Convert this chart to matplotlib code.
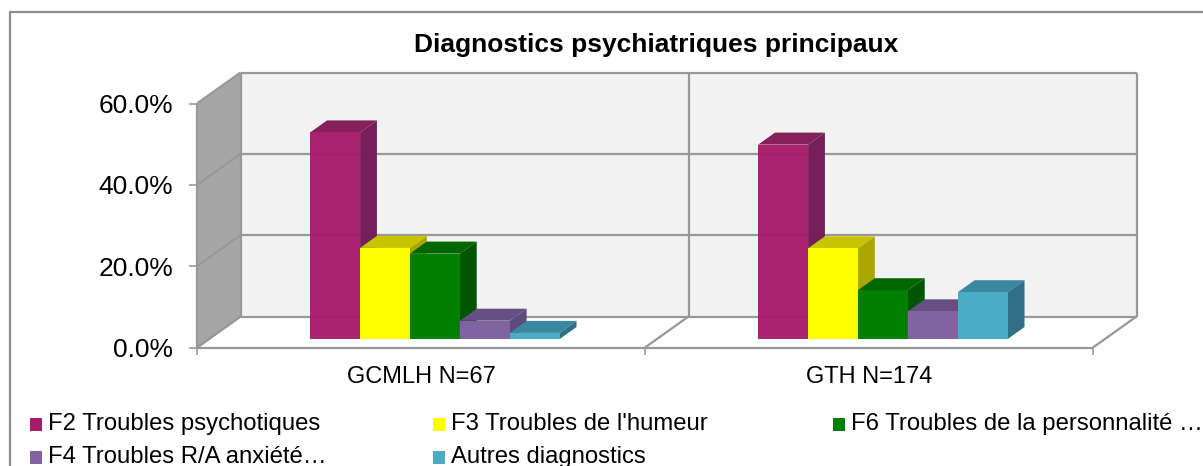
import matplotlib
matplotlib.use("Agg")
import matplotlib.pyplot as plt
from matplotlib.patches import Rectangle

# ---- data ----
categories = ["GCMLH N=67", "GTH N=174"]
series_names = ["F2 Troubles psychotiques", "F3 Troubles de l'humeur",
                "F6 Troubles de la personnalité …", "F4 Troubles R/A anxiété…",
                "Autres diagnostics"]
f2 = [50.8, 47.8]
f3 = [22.4, 22.3]
f6 = [21.0, 12.0]
f4 = [4.5, 6.8]
autres = [1.5, 11.5]
y_ticks = [0, 20, 40, 60]
title = "Diagnostics psychiatriques principaux"

series = [f2, f3, f6, f4, autres]
front = ["#A81A6A", "#FFFF00", "#008000", "#8064A2", "#4BACC6"]
top = ["#84205C", "#C9C400", "#006600", "#664F82", "#3A88A0"]
side = ["#75205A", "#AAA800", "#005500", "#5F4A7A", "#2F7086"]
front_alpha = [0.96, 1, 1, 1, 1]

W, H = 1203, 466
plt.rcParams['font.family'] = ['Liberation Sans', 'DejaVu Sans']
fig = plt.figure(figsize=(W / 100, H / 100), dpi=100)
L, R, Y0, Y60 = 197, 1093, 347.5, 103.5
ax = fig.add_axes([L / W, 1 - Y0 / H, (R - L) / W, (Y0 - Y60) / H])
ax.set_xlim(0, 2)
ax.set_ylim(0, 60)
for s in ax.spines.values():
    s.set_visible(False)
ax.patch.set_visible(False)

GRID = "#989898"
px_x = 2 / (R - L)
px_y = 60 / (Y0 - Y60)
DX, DY = 43.5 * px_x, 31 * px_y   # wall depth in data units


def P(x, v, d):
    return x + DX * d, v + DY * d


def poly(pts, **kw):
    ax.fill([p[0] for p in pts], [p[1] for p in pts], clip_on=False, **kw)


# walls
poly([P(0, 0, 1), P(2, 0, 1), P(2, 60, 1), P(0, 60, 1)], fc="#F2F2F2", ec="none", zorder=1)
poly([P(0, 0, 0), P(0, 0, 1), P(0, 60, 1), P(0, 60, 0)], fc="#A6A6A6", ec="none", zorder=1)
poly([P(0, 0, 0), P(2, 0, 0), P(2, 0, 1), P(0, 0, 1)], fc="#FFFFFF", ec="none", zorder=1)


def line(a, b):
    ax.plot([a[0], b[0]], [a[1], b[1]], color=GRID, lw=1.6, clip_on=False,
            solid_capstyle="butt", zorder=2)


for t in y_ticks:
    line(P(0, t, 0), P(0, t, 1))
    line(P(0, t, 1), P(2, t, 1))
for x in [0, 1, 2]:
    line(P(x, 0, 1), P(x, 60, 1))
    line(P(x, 0, 0), P(x, 0, 1))
line(P(0, 0, 0), P(2, 0, 0))
line(P(0, 0, 0), P(0, 60, 0))

# bars: each drawn over the previous one, left to right
BW = 49.9 * px_x
D0, D1 = 8.5 / 31, 20.5 / 31
n = len(series)
for c in range(len(categories)):
    for i in range(n):
        v = series[i][c]
        xl = c + 0.5 + (i - n / 2) * BW + 2 * px_x
        xr = xl + BW
        z = 5 + i * 0.1
        poly([P(xl, v, D0), P(xr, v, D0), P(xr, v, D1), P(xl, v, D1)], fc=top[i], ec="none", zorder=z)
        poly([P(xr, 0, D0), P(xr, 0, D1), P(xr, v, D1), P(xr, v, D0)], fc=side[i], ec="none", zorder=z)
        x0, b0 = P(xl, 0, D0)
        ax.bar(x0, v, width=BW, bottom=b0, align="edge", color=front[i], alpha=front_alpha[i],
               clip_on=False, zorder=z + 0.05)

# ticks
ax.set_yticks(y_ticks)
ax.set_yticklabels([f"{t:.1f}%" for t in y_ticks], fontsize=19, color="black")
ax.tick_params(axis="y", length=5.5, width=1.2, color=GRID, pad=11.5)
ax.set_xticks([0, 1, 2])
ax.set_xticklabels([])
ax.tick_params(axis="x", length=5, width=1.2, color=GRID)
ax.set_xticks([0.5, 1.5], minor=True)
ax.set_xticklabels(categories, minor=True, fontsize=17, color="black")
ax.tick_params(axis="x", which="minor", length=0, pad=13)


def fx(px):
    return px / W


def fy(py):
    return 1 - py / H


# title, frame
fig.text(fx(656.5), fy(45), title, ha="center", va="center", fontsize=19, fontweight="bold")
fig.add_artist(Rectangle((fx(10), fy(H + 5)), fx(1300), fy(12) - fy(H + 5), transform=fig.transFigure,
                         fc="none", ec="#8C8C8C", lw=1.6))

# legend
leg_pos = [(29.5, 424), (433, 424), (833, 424), (29.5, 457), (433, 457)]
for (x, y), name, col in zip(leg_pos, series_names, front):
    fig.add_artist(Rectangle((fx(x), fy(y + 6.5)), 12 / W, 13 / H, transform=fig.transFigure,
                             fc=col, ec="none"))
    fig.text(fx(x + 18), fy(y), name, ha="left", va="center", fontsize=17.2)

fig.savefig("out.png", dpi=100)
